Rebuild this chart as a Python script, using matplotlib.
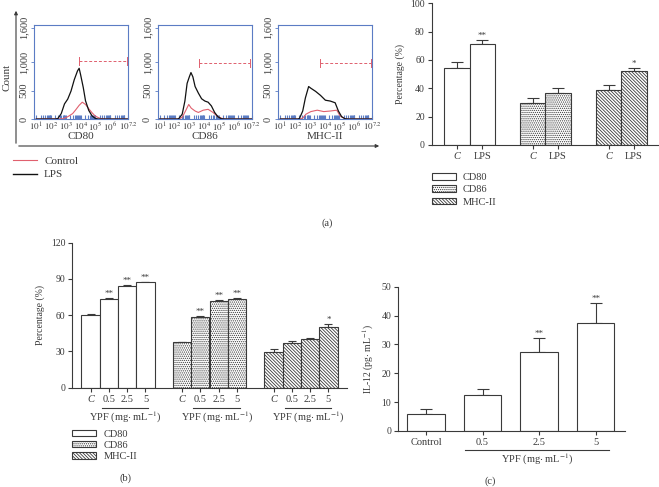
import numpy as np
import matplotlib
matplotlib.use("Agg")
from matplotlib import pyplot as plt
from matplotlib.patches import Patch, FancyArrowPatch
from matplotlib.lines import Line2D

plt.rcParams['font.family'] = ['Liberation Serif', 'DejaVu Serif']
plt.rcParams['mathtext.fontset'] = 'stix'
plt.rcParams['font.size'] = 7
plt.rcParams['hatch.linewidth'] = 0.6
plt.rcParams['hatch.color'] = '#3a3a3a'
plt.rcParams['text.color'] = '#3a3a3a'
plt.rcParams['axes.labelcolor'] = '#3a3a3a'
plt.rcParams['xtick.color'] = '#3a3a3a'
plt.rcParams['ytick.color'] = '#3a3a3a'

W, H = 659, 487
EDGE = '#3a3a3a'
BLUE = '#5b7cc4'
RED = '#e0606e'

# (a) flow cytometry histograms, x = log10 fluorescence, y = count
HIST_MARKERS = ["CD80", "CD86", "MHC-II"]

cd80_ctrl_x = [1.0, 2.8, 3.13, 3.46, 3.68, 3.9, 4.11, 4.33, 4.55, 4.77, 4.99, 5.32, 5.65, 7.2]
cd80_ctrl_y = [0, 5, 40, 95, 165, 240, 295, 255, 180, 110, 50, 10, 0, 0]
cd80_lps_x = [1.0, 2.3, 2.47, 2.69, 2.91, 3.13, 3.35, 3.57, 3.79, 3.9, 4.0, 4.18, 4.33, 4.55, 4.77, 4.99, 5.2, 7.2]
cd80_lps_y = [0, 0, 10, 95, 265, 350, 490, 690, 845, 890, 775, 550, 320, 150, 55, 10, 0, 0]

cd86_ctrl_x = [1.0, 2.3, 2.52, 2.74, 2.96, 3.13, 3.39, 3.61, 3.94, 4.27, 4.6, 4.93, 5.26, 5.5, 7.2]
cd86_ctrl_y = [0, 0, 30, 140, 255, 190, 140, 115, 155, 170, 115, 40, 5, 0, 0]
cd86_lps_x = [1.0, 2.2, 2.3, 2.52, 2.7, 2.85, 3.0, 3.11, 3.24, 3.39, 3.61, 3.83, 4.05, 4.27, 4.49, 4.71, 4.93, 5.15, 5.4, 7.2]
cd86_lps_y = [0, 0, 10, 85, 315, 625, 740, 815, 740, 570, 455, 355, 315, 295, 230, 115, 40, 5, 0, 0]

mhc_ctrl_x = [1.0, 2.3, 2.52, 2.74, 3.07, 3.5, 3.94, 4.38, 4.82, 5.04, 5.37, 5.6, 7.2]
mhc_ctrl_y = [0, 0, 15, 85, 130, 155, 130, 140, 155, 55, 5, 0, 0]
mhc_lps_x = [1.0, 2.2, 2.3, 2.52, 2.7, 2.92, 3.07, 3.39, 3.72, 4.05, 4.38, 4.71, 4.93, 5.15, 5.37, 5.6, 7.2]
mhc_lps_y = [0, 0, 10, 140, 370, 570, 540, 485, 415, 330, 315, 285, 140, 40, 5, 0, 0]

gate_start = [3.86, 3.66, 3.72]
gate_end = 7.1
gate_level = [1010, 990, 990]

hist_ticks = [1, 2, 3, 4, 5, 6, 7.2]
hist_ticklabels = [r'$10^{1}$', r'$10^{2}$', r'$10^{3}$', r'$10^{4}$', r'$10^{5}$', r'$10^{6}$', r'$10^{7.2}$']

# (a) percentage of positive cells, control vs LPS
pct_c = [54.5, 29.4, 38.8]
pct_c_err = [4.1, 3.6, 3.2]
pct_lps = [71.0, 36.7, 52.2]
pct_lps_err = [3.0, 3.8, 2.4]
sig_lps = ["**", "", "*"]

# (b) percentage of positive cells vs YPF dose
ypf_doses = ["C", "0.5", "2.5", "5"]
cd80_ypf = [60.0, 73.2, 84.2, 87.2]
cd80_ypf_err = [0.8, 0.8, 0.5, 0.4]
cd86_ypf = [37.6, 58.8, 72.0, 73.7]
cd86_ypf_err = [0.6, 0.7, 0.5, 0.5]
mhc_ypf = [29.3, 37.3, 40.0, 50.5]
mhc_ypf_err = [2.7, 1.6, 1.4, 2.2]
sig_cd80 = ["", "**", "**", "**"]
sig_cd86 = ["", "**", "**", "**"]
sig_mhc = ["", "", "", "*"]

# (c) IL-12
il12_labels = ["Control", "0.5", "2.5", "5"]
il12 = [5.9, 12.4, 27.3, 37.5]
il12_err = [1.6, 2.3, 4.8, 6.8]
sig_il12 = ["", "", "**", "**"]

HATCHES = {"CD80": None, "CD86": "." * 8, "MHC-II": "\\" * 10}


def px_axes(fig, x0, y0, x1, y1):
    return fig.add_axes([x0 / W, 1 - y1 / H, (x1 - x0) / W, (y1 - y0) / H])


def bar_style(ax):
    for s in ["top", "right"]:
        ax.spines[s].set_visible(False)
    for s in ["left", "bottom"]:
        ax.spines[s].set_color(EDGE)
        ax.spines[s].set_linewidth(0.8)
    ax.tick_params(direction="out", length=3, width=0.8, pad=2)


def draw_bars(ax, pos, vals, errs, width, hatch, sigs, capsize):
    ax.bar(pos, vals, width=width, color="white", edgecolor=EDGE, linewidth=0.8,
           hatch=hatch, zorder=2)
    ax.errorbar(pos, vals, yerr=[np.zeros(len(vals)), errs], fmt="none", ecolor=EDGE,
                elinewidth=0.8, capsize=capsize, capthick=0.8, zorder=1)
    for p, v, e, s in zip(pos, vals, errs, sigs):
        if s:
            ax.text(p, v + e, s, ha="center", va="bottom", fontsize=6.5)


fig = plt.figure(figsize=(W / 100, H / 100), dpi=100)

# ---- (a) histograms ----
hist_ctrl = [(cd80_ctrl_x, cd80_ctrl_y), (cd86_ctrl_x, cd86_ctrl_y), (mhc_ctrl_x, mhc_ctrl_y)]
hist_lps = [(cd80_lps_x, cd80_lps_y), (cd86_lps_x, cd86_lps_y), (mhc_lps_x, mhc_lps_y)]
hist_lefts = [34, 157.5, 278]
minor = [np.log10(k * 10.0 ** n) for n in range(1, 7) for k in range(2, 10)]
for i, name in enumerate(HIST_MARKERS):
    ax = px_axes(fig, hist_lefts[i], 25, hist_lefts[i] + 94, 119)
    ax.plot(*hist_ctrl[i], color=RED, lw=0.8)
    ax.plot(*hist_lps[i], color="#111111", lw=0.9)
    ax.plot([gate_start[i], gate_end], [gate_level[i]] * 2, color=RED, ls="--", lw=0.7, dashes=(3, 2))
    for gx in [gate_start[i], gate_end]:
        ax.plot([gx, gx], [gate_level[i] - 70, gate_level[i] + 70], color=RED, lw=0.7)
    ax.set_xlim(0.85, 7.2)
    ax.set_ylim(0, 1650)
    ax.set_xticks(hist_ticks)
    ax.set_xticklabels(hist_ticklabels, fontsize=6.5)
    ax.set_xticks(minor, minor=True)
    ax.set_yticks([0, 500, 1000, 1600])
    ax.set_yticklabels(["0", "500", "1,000", "1,600"], rotation=90, va="center", fontsize=7.5)
    ax.tick_params(axis="x", which="both", direction="in", color=BLUE, length=3, width=0.8, pad=1.5)
    ax.tick_params(axis="y", direction="out", color=BLUE, length=2, width=0.6, pad=2)
    for s in ax.spines.values():
        s.set_color(BLUE)
        s.set_linewidth(0.8)
    ax.set_xlabel(name, fontsize=8, labelpad=-1)

# outer arrows of the histogram block
fig.add_artist(FancyArrowPatch((16 / W, 1 - 146 / H), (16 / W, 1 - 8 / H), transform=fig.transFigure,
                               arrowstyle="-|>", mutation_scale=5, lw=0.8, color=EDGE))
fig.add_artist(FancyArrowPatch((16 / W, 1 - 146 / H), (382 / W, 1 - 146 / H), transform=fig.transFigure,
                               arrowstyle="-|>", mutation_scale=5, lw=0.8, color=EDGE))
fig.text(7 / W, 1 - 77 / H, "Count", rotation=90, ha="center", va="center", fontsize=8)
fig.legend([Line2D([], [], color=RED, lw=0.8), Line2D([], [], color="#111111", lw=1.0)],
           ["Control", "LPS"], loc="upper left", bbox_to_anchor=(13 / W, 1 - 156 / H),
           frameon=False, fontsize=8, handlelength=2.2, handletextpad=0.6,
           labelspacing=0.35, borderpad=0, borderaxespad=0)

# ---- (a) bar chart ----
ax = px_axes(fig, 431.7, 3.3, 658, 145)
bar_style(ax)
pos_c = [1, 4, 7]
pos_lps = [2, 5, 8]
for j, name in enumerate(HIST_MARKERS):
    draw_bars(ax, [pos_c[j], pos_lps[j]], [pct_c[j], pct_lps[j]], [pct_c_err[j], pct_lps_err[j]],
              1.0, HATCHES[name], ["", sig_lps[j]], 4.5)
ax.set_xlim(0, 8.95)
ax.set_ylim(0, 100)
ax.set_yticks(range(0, 101, 20))
ax.set_xticks([1, 2, 4, 5, 7, 8])
ax.set_xticklabels(["C", "LPS"] * 3, fontsize=7.5)
for t in ax.get_xticklabels():
    if t.get_text() == "C":
        t.set_fontstyle("italic")
ax.set_ylabel("Percentage (%)", labelpad=4)
ax.legend([Patch(facecolor="white", edgecolor=EDGE, lw=0.8, hatch=HATCHES[n]) for n in HIST_MARKERS],
          HIST_MARKERS, loc="upper left", bbox_to_anchor=(0, -0.2), frameon=False,
          handlelength=2.3, handleheight=0.6, handletextpad=0.7, labelspacing=0.3,
          borderpad=0, borderaxespad=0, fontsize=7.5)
fig.text(327 / W, 1 - 223 / H, "(a)", ha="center", va="center", fontsize=7.5)

# ---- (b) ----
ax = px_axes(fig, 72.3, 242.7, 346.7, 387.7)
bar_style(ax)
groups_b = [(cd80_ypf, cd80_ypf_err, sig_cd80), (cd86_ypf, cd86_ypf_err, sig_cd86), (mhc_ypf, mhc_ypf_err, sig_mhc)]
ticks_b = []
for j, name in enumerate(HIST_MARKERS):
    pos = [1 + 5 * j + k for k in range(4)]
    ticks_b += pos
    vals, errs, sigs = groups_b[j]
    draw_bars(ax, pos, vals, errs, 1.0, HATCHES[name], sigs, 3)
    ax.plot([pos[1] - 0.4, pos[3] + 0.15], [-0.138, -0.138], color=EDGE, lw=0.8,
            transform=ax.get_xaxis_transform(), clip_on=False)
    ax.text(pos[1] + 0.9, -0.205, r"YPF (mg$\cdot$ mL$^{-1}$)", ha="center", va="center",
            transform=ax.get_xaxis_transform(), fontsize=7.5)
ax.set_xlim(0, 15)
ax.set_ylim(0, 120)
ax.set_yticks(range(0, 121, 30))
ax.set_xticks(ticks_b)
ax.set_xticklabels(ypf_doses * 3, fontsize=7.5)
for t in ax.get_xticklabels():
    if t.get_text() == "C":
        t.set_fontstyle("italic")
ax.set_ylabel("Percentage (%)", labelpad=4)
ax.legend([Patch(facecolor="white", edgecolor=EDGE, lw=0.8, hatch=HATCHES[n]) for n in HIST_MARKERS],
          HIST_MARKERS, loc="upper left", bbox_to_anchor=(0, -0.29), frameon=False,
          handlelength=2.3, handleheight=0.6, handletextpad=0.7, labelspacing=0.2,
          borderpad=0, borderaxespad=0, fontsize=7.5)
fig.text(125 / W, 1 - 478 / H, "(b)", ha="center", va="center", fontsize=7.5)

# ---- (c) ----
ax = px_axes(fig, 398.3, 286.7, 625, 431)
bar_style(ax)
pos_c = np.arange(len(il12))
draw_bars(ax, pos_c, il12, il12_err, 0.667, None, sig_il12, 4)
ax.set_xlim(-0.49, 3.52)
ax.set_ylim(0, 50)
ax.set_yticks(range(0, 51, 10))
ax.set_xticks(pos_c)
ax.set_xticklabels(il12_labels, fontsize=7.5)
ax.plot([0.69, 3.24], [-0.132, -0.132], color=EDGE, lw=0.8,
        transform=ax.get_xaxis_transform(), clip_on=False)
ax.text(1.96, -0.2, r"YPF (mg$\cdot$ mL$^{-1}$)", ha="center", va="center",
        transform=ax.get_xaxis_transform(), fontsize=7.5)
ax.set_ylabel(r"IL-12 (pg$\cdot$ mL$^{-1}$)", labelpad=4)
fig.text(490 / W, 1 - 481 / H, "(c)", ha="center", va="center", fontsize=7.5)

plt.savefig("out.png", dpi=100, facecolor="white")
